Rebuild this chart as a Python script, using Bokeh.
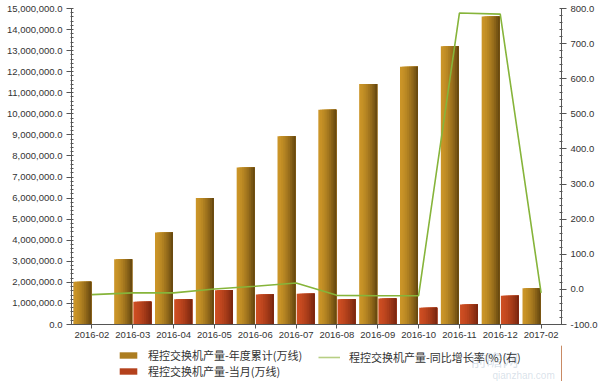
import math
from bokeh.plotting import figure
from bokeh.layouts import column
from bokeh.models import (Range1d, LinearAxis, FixedTicker, NumeralTickFormatter,
                          Legend, LegendItem, ColumnDataSource, FactorRange, Label)
from bokeh.transform import dodge
from bokeh.embed import file_html
from bokeh.resources import INLINE

months = ["2016-02", "2016-03", "2016-04", "2016-05", "2016-06", "2016-07",
          "2016-08", "2016-09", "2016-10", "2016-11", "2016-12", "2017-02"]
ytd_total = [2030000, 3100000, 4370000, 6010000, 7450000, 8940000,
             10190000, 11420000, 12240000, 13210000, 14620000, 1720000]
monthly = [float("nan"), 1080000, 1200000, 1630000, 1420000, 1460000,
           1200000, 1230000, 790000, 950000, 1360000, float("nan")]
yoy_growth = [-15, -10, -10, 1, 9, 18, -17, -18, -18, 787, 784, -10]

left_ticks = [i * 1000000 for i in range(16)]
right_ticks = [-100, 0, 100, 200, 300, 400, 500, 600, 700, 800]

name_ytd = "程控交换机产量-年度累计(万线)"
name_month = "程控交换机产量-当月(万线)"
name_yoy = "程控交换机产量-同比增长率(%)(右)"

FONT = "Liberation Sans"
CJK = "Noto Sans CJK SC"

src = ColumnDataSource(dict(m=months, ytd=ytd_total, mon=monthly, yoy=yoy_growth))

p = figure(width=600, height=345, x_range=FactorRange(*months, range_padding=0),
           y_range=Range1d(0, 15000000), output_backend="svg", toolbar_location=None,
           min_border_left=71, min_border_right=39, min_border_top=8, min_border_bottom=21)
p.x_range.factor_padding = 0
p.extra_y_ranges = {"r": Range1d(-100, 800)}
p.outline_line_color = None
p.xgrid.grid_line_color = None
p.ygrid.grid_line_color = None
p.background_fill_color = "white"

def mix(c1, c2, t):
    return "#%02x%02x%02x" % tuple(int(round(a + (b - a) * t)) for a, b in zip(c1, c2))

N = 10
bw = 0.44
gold_l, gold_r = (204, 150, 40), (98, 68, 14)
red_l, red_r = (206, 78, 34), (118, 36, 14)
for k in range(N):
    t = (k + 0.5) / N
    tt = t ** 1.6
    start = k * bw / N
    w = bw - start
    p.vbar(x=dodge("m", -0.235 + start / 2, range=p.x_range), top="ytd",
           width=w, bottom=0, source=src,
           fill_color=mix(gold_l, gold_r, tt), line_color=None)
    p.vbar(x=dodge("m", 0.235 + start / 2, range=p.x_range), top="mon",
           width=w, bottom=0, source=src,
           fill_color=mix(red_l, red_r, tt), line_color=None)

p.line(x="m", y="yoy", source=src, y_range_name="r",
       line_color="#86b43a", line_width=1.6)

# axes styling
ax = p.yaxis[0]
ax.ticker = FixedTicker(ticks=left_ticks,
                        minor_ticks=[i * 200000 for i in range(76)])
ax.formatter = NumeralTickFormatter(format="0,0.0")

ax_r = LinearAxis(y_range_name="r",
                  ticker=FixedTicker(ticks=right_ticks,
                                     minor_ticks=list(range(-100, 801, 20))),
                  formatter=NumeralTickFormatter(format="0.0"))
p.add_layout(ax_r, "right")

for a in [ax, ax_r, p.xaxis[0]]:
    a.axis_line_color = "#555555"
    a.major_tick_line_color = "#555555"
    a.minor_tick_line_color = "#555555"
    a.major_tick_out = 5
    a.major_tick_in = 0
    a.minor_tick_out = 1
    a.minor_tick_in = 2
    a.major_label_text_font = FONT
    a.major_label_text_font_size = "9.5px"
    a.major_label_text_color = "#333333"
    a.major_label_standoff = 4

p.xaxis[0].major_tick_out = 4
p.xaxis[0].major_label_standoff = 3

# legend strip below the chart (its frame is aligned with the chart frame)
lf = figure(width=600, height=36, x_range=Range1d(0, 1), y_range=Range1d(0, 1),
            output_backend="svg", toolbar_location=None,
            x_axis_type=None, y_axis_type=None,
            min_border_left=0, min_border_right=0, min_border_top=0, min_border_bottom=0)
lf.outline_line_color = None
lf.xgrid.grid_line_color = None
lf.ygrid.grid_line_color = None
dummy = ColumnDataSource(dict(x=[5, 6], y=[5, 6], t=[5, 6]))
g1 = lf.vbar(x="x", top="t", width=1, source=dummy,
             fill_color=mix(gold_l, gold_r, 0.3), line_color=None)
g2 = lf.vbar(x="x", top="t", width=1, source=dummy,
             fill_color=mix(red_l, red_r, 0.3), line_color=None)
g3 = lf.line(x="x", y="y", source=dummy, line_color="#b7cf84", line_width=1.6)

common = dict(orientation="vertical", glyph_width=22, glyph_height=8,
              label_height=11, label_standoff=9, spacing=0, padding=0, margin=0,
              border_line_color=None, background_fill_alpha=0,
              label_text_font=CJK, label_text_font_size="11px",
              label_text_color="#333333")
leg_a = Legend(items=[LegendItem(label=name_ytd, renderers=[g1]),
                      LegendItem(label=name_month, renderers=[g2])],
               location=(46, 2), **common)
leg_b = Legend(items=[LegendItem(label=name_yoy, renderers=[g3])],
               location=(247, 16), **common)
lf.add_layout(leg_a, "center")
lf.add_layout(leg_b, "center")

lf.add_layout(Label(x=399, y=11, x_units="screen", y_units="screen",
                    text="前瞻网", text_font=CJK, text_font_size="16px",
                    text_color="#8fa9c0", text_alpha=0.35))
lf.add_layout(Label(x=421, y=1, x_units="screen", y_units="screen",
                    text="qianzhan.com", text_font=FONT, text_font_size="10px",
                    text_color="#8fa9c0", text_alpha=0.35))

layout = column(p, lf, spacing=0)
open("out.html", "w").write(file_html(layout, INLINE))
